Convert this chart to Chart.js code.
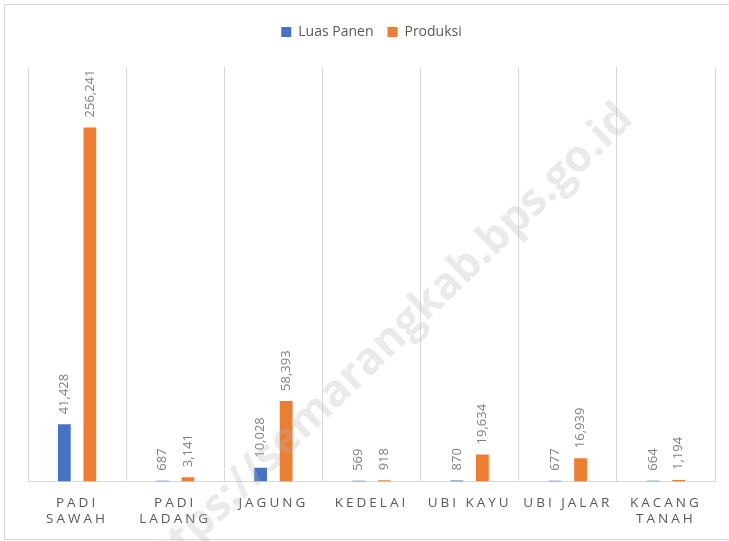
<!DOCTYPE html>
<html>
<head>
<meta charset="utf-8">
<script src="https://cdn.jsdelivr.net/npm/chart.js@4"></script>
<style>
  html, body { margin: 0; padding: 0; background: #fff; }
  #wrap { position: relative; width: 729px; height: 541px; }
  #frame { position: absolute; left: 4px; top: 4px; width: 740px; height: 536px; border: 1px solid #d9d9d9; box-sizing: border-box; }
  canvas { position: absolute; left: 0; top: 0; }
</style>
</head>
<body>
<div id="wrap">
  <div id="frame"></div>
  <canvas id="chart" width="729" height="541"></canvas>
</div>
<script>
// data
const categories = [['PADI', 'SAWAH'], ['PADI', 'LADANG'], 'JAGUNG', 'KEDELAI', 'UBI KAYU', 'UBI JALAR', ['KACANG', 'TANAH']];
const luasPanen = [41428, 687, 10028, 569, 870, 677, 664];
const produksi = [256241, 3141, 58393, 918, 19634, 16939, 1194];

// jarak ekstra di bawah legenda
const legendGap = {
  id: 'legendGap',
  beforeInit(chart) {
    const fit = chart.legend.fit;
    chart.legend.fit = function() {
      fit.bind(chart.legend)();
      this.height += 18;
    };
  }
};

// label angka di atas batang (diputar -90)
const valueLabels = {
  id: 'valueLabels',
  afterDatasetsDraw(chart) {
    const ctx = chart.ctx;
    ctx.save();
    ctx.font = '13px "Open Sans"';
    ctx.fillStyle = '#7f7f7f';
    ctx.textAlign = 'left';
    ctx.textBaseline = 'middle';
    chart.data.datasets.forEach(function(ds, i) {
      chart.getDatasetMeta(i).data.forEach(function(bar, j) {
        ctx.save();
        ctx.translate(bar.x, bar.y - 10);
        ctx.rotate(-Math.PI / 2);
        ctx.fillText(ds.data[j].toLocaleString('en-US'), 0, 0);
        ctx.restore();
      });
    });
    ctx.restore();
    // spasi huruf untuk label sumbu x (digambar setelah ini, z:1)
    ctx.letterSpacing = '3px';
  },
  afterDraw(chart) {
    const ctx = chart.ctx;
    ctx.letterSpacing = '0px';
    // watermark
    ctx.save();
    ctx.translate(384, 346);
    ctx.rotate(-44 * Math.PI / 180);
    ctx.font = 'bold 44px "Open Sans"';
    ctx.fillStyle = 'rgba(180,180,180,0.28)';
    ctx.textAlign = 'center';
    ctx.textBaseline = 'middle';
    ctx.fillText('https://semarangkab.bps.go.id', 0, 0);
    ctx.restore();
  }
};

new Chart(document.getElementById('chart'), {
  type: 'bar',
  data: {
    labels: categories,
    datasets: [
      { label: 'Luas Panen', data: luasPanen, backgroundColor: '#4472C4' },
      { label: 'Produksi', data: produksi, backgroundColor: '#ED7D31' }
    ]
  },
  options: {
    responsive: false,
    animation: false,
    categoryPercentage: 0.52,
    barPercentage: 0.5,
    layout: { padding: { left: 28, right: 14, top: 11, bottom: 1 } },
    plugins: {
      legend: {
        position: 'top',
        labels: { color: '#595959', font: { size: 14, family: 'Open Sans' }, boxWidth: 10, boxHeight: 10, padding: 14 }
      },
      tooltip: { enabled: false }
    },
    scales: {
      x: {
        grid: { offset: true, color: '#d9d9d9', drawTicks: false },
        border: { color: '#d9d9d9' },
        ticks: { color: '#595959', font: { size: 13.5, family: 'Open Sans' }, padding: 13, maxRotation: 0, z: 1 }
      },
      y: {
        display: false,
        min: 0,
        max: 300000
      }
    }
  },
  plugins: [legendGap, valueLabels]
});
</script>
</body>
</html>
